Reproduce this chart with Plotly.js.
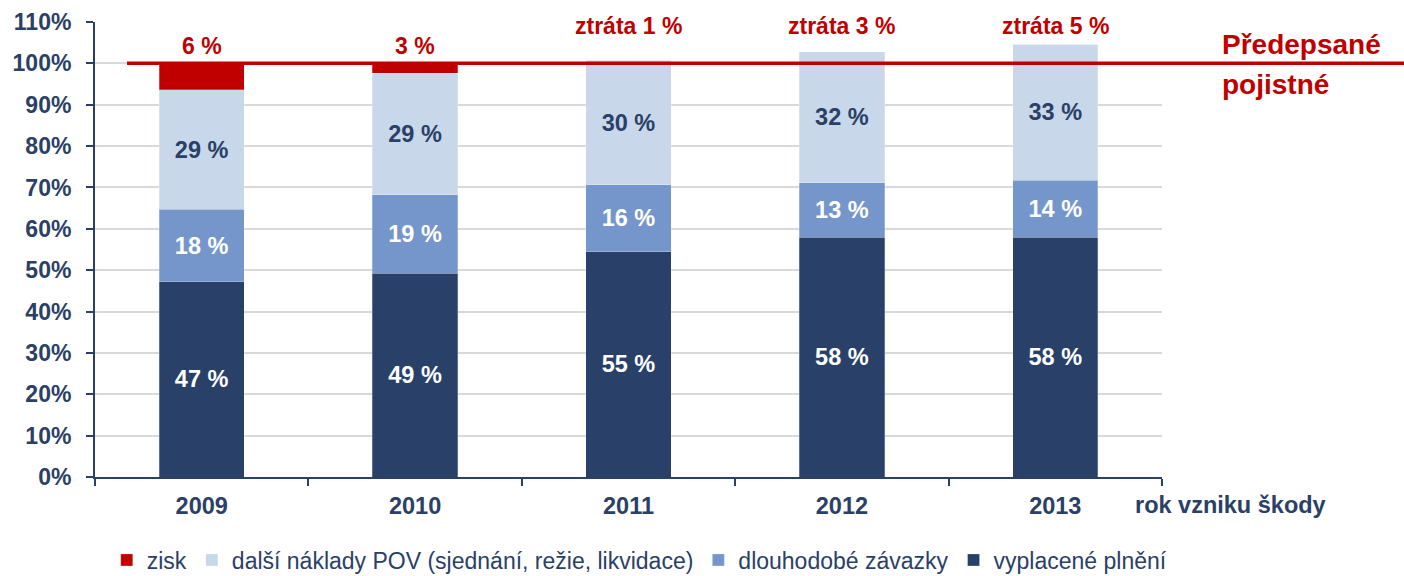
<!DOCTYPE html>
<html>
<head>
<meta charset="utf-8">
<script src="https://cdn.plot.ly/plotly-3.0.1.min.js"></script>
<style>html,body{margin:0;padding:0;background:#fff;}#chart{width:1404px;height:576px;}</style>
</head>
<body>
<div id="chart"></div>
<script>
// ---- data ----
const years = ['2009', '2010', '2011', '2012', '2013'];
const vyplacene = [47.2, 49.2, 54.4, 58.0, 58.0];
const dlouhodobe = [17.5, 19.0, 16.2, 13.1, 13.8];
const dalsi = [28.9, 29.4, 30.2, 31.7, 32.8];
const zisk = [6.4, 2.4, 0, 0, 0];
const vyplaceneLabels = ['47 %', '49 %', '55 %', '58 %', '58 %'];
const dlouhodobeLabels = ['18 %', '19 %', '16 %', '13 %', '14 %'];
const dalsiLabels = ['29 %', '29 %', '30 %', '32 %', '33 %'];
const resultLabels = ['6 %', '3 %', 'ztráta 1 %', 'ztráta 3 %', 'ztráta 5 %'];
const isProfit = [true, true, false, false, false];
const premiumLevel = 100;
const seriesNames = ['vyplacené plnění', 'dlouhodobé závazky', 'další náklady POV (sjednání, režie, likvidace)', 'zisk'];
const premiumLabel = ['Předepsané', 'pojistné'];
const xAxisLabel = 'rok vzniku škody';

// ---- style ----
const NAVY = '#2A4066';
const RED = '#C00000';
const FONT = 'Liberation Sans, Arial, sans-serif';
const colors = ['#294169', '#7596CB', '#C8D7EA', RED];
const textColors = ['#FFFFFF', '#FFFFFF', NAVY, NAVY];

const seriesValues = [vyplacene, dlouhodobe, dalsi, zisk];
const seriesLabels = [vyplaceneLabels, dlouhodobeLabels, dalsiLabels, null];

const traces = seriesValues.map((vals, i) => {
  const t = {
    type: 'bar',
    name: seriesNames[i],
    x: years,
    y: vals,
    marker: {color: colors[i], line: {color: 'rgba(255,255,255,0.5)', width: 0.5}},
    hoverinfo: 'skip'
  };
  if (seriesLabels[i]) {
    t.text = seriesLabels[i];
    t.texttemplate = '<b>%{text}</b>';
    t.textposition = 'inside';
    t.insidetextanchor = 'middle';
    t.textangle = 0;
    t.constraintext = 'none';
    t.insidetextfont = {family: FONT, size: 23.5, color: textColors[i]};
  } else {
    t.textposition = 'none';
  }
  return t;
});

const annotations = years.map((yr, i) => ({
  x: i, xref: 'x',
  y: isProfit[i] ? 104.3 : 109.0, yref: 'y',
  text: '<b>' + resultLabels[i] + '</b>',
  showarrow: false,
  xanchor: 'center', yanchor: 'middle',
  font: {family: FONT, size: 23, color: RED}
}));
annotations.push({
  x: 1.054, xref: 'paper', y: 0.951, yref: 'paper',
  text: '<b>' + premiumLabel[0] + '</b>', showarrow: false,
  xanchor: 'left', yanchor: 'middle',
  font: {family: FONT, size: 28, color: RED}
});
annotations.push({
  x: 1.054, xref: 'paper', y: 0.862, yref: 'paper',
  text: '<b>' + premiumLabel[1] + '</b>', showarrow: false,
  xanchor: 'left', yanchor: 'middle',
  font: {family: FONT, size: 28, color: RED}
});
annotations.push({
  x: 1.064, xref: 'paper', y: -0.062, yref: 'paper',
  text: '<b>' + xAxisLabel + '</b>', showarrow: false,
  xanchor: 'center', yanchor: 'middle',
  font: {family: FONT, size: 23.5, color: NAVY}
});

const layout = {
  width: 1404, height: 576,
  margin: {l: 95, r: 242, t: 22, b: 99, autoexpand: false},
  paper_bgcolor: '#fff', plot_bgcolor: '#fff',
  barmode: 'stack',
  bargap: 0.6,
  showlegend: true,
  legend: {
    orientation: 'h', traceorder: 'reversed',
    x: 0.011, xanchor: 'left', y: -0.135, yanchor: 'top',
    font: {family: FONT, size: 23, color: NAVY},
    itemclick: false, itemdoubleclick: false
  },
  xaxis: {
    type: 'category',
    range: [-0.5, years.length - 0.5], autorange: false,
    showline: true, linecolor: NAVY, linewidth: 2,
    ticks: 'outside', tickson: 'boundaries', ticklen: 7, tickwidth: 2, tickcolor: NAVY,
    tickfont: {family: FONT, size: 23.5, color: NAVY, weight: 'bold'},
    ticklabelstandoff: 7,
    showgrid: false, fixedrange: true
  },
  yaxis: {
    range: [0, 110], autorange: false, dtick: 10, ticksuffix: '%',
    showline: true, linecolor: NAVY, linewidth: 2,
    ticks: 'outside', ticklen: 7, tickwidth: 2, tickcolor: NAVY,
    tickfont: {family: FONT, size: 23, color: NAVY, weight: 'bold'},
    ticklabelstandoff: 10,
    showgrid: true, gridcolor: '#D9D9D9', gridwidth: 2,
    zeroline: false, fixedrange: true
  },
  shapes: [{
    type: 'line', xref: 'paper', yref: 'y',
    x0: 0.03, x1: 1.23, y0: premiumLevel, y1: premiumLevel,
    line: {color: RED, width: 3.5}, layer: 'above'
  }],
  annotations: annotations
};

Plotly.newPlot('chart', traces, layout, {displayModeBar: false, staticPlot: true});
</script>
</body>
</html>
